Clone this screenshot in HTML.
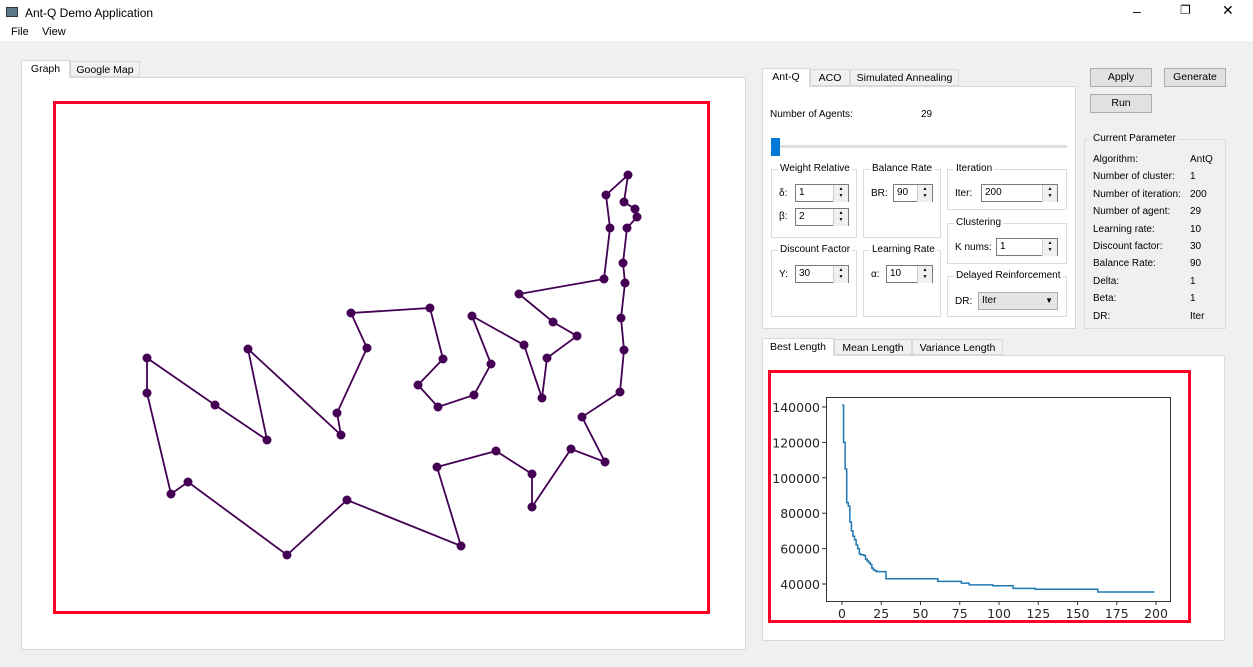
<!DOCTYPE html>
<html><head><meta charset="utf-8">
<style>
*{box-sizing:border-box}
body{margin:0;width:1253px;height:667px;overflow:hidden;background:#f0f0f0;font-family:"Liberation Sans",sans-serif;font-size:11px;color:#000;position:relative}
.a{position:absolute}
.top{left:0;top:0;width:1253px;height:41px;background:#fff}
.tab{position:absolute;border:1px solid #d9d9d9;background:#f0f0f0;text-align:center;line-height:16px;font-size:10.5px}
.tab.sel{background:#fff;border-bottom:none}
.pane{position:absolute;background:#fff;border:1px solid #d9d9d9}
.btn{position:absolute;background:#e1e1e1;border:1px solid #adadad;text-align:center;line-height:17px;font-size:10.5px}
.grp{position:absolute;border:1px solid #dcdcdc}
.gl{position:absolute;top:-7px;left:6px;background:#fff;padding:0 2px;font-size:10px}
.spin{position:absolute;border:1px solid #7a7a7a;background:#fff;height:18px;font-size:10px;line-height:16px;padding-left:3px}
.spin:after{content:"▲\A▼";white-space:pre;font-size:5px;line-height:7px;text-align:center;padding-top:1px;position:absolute;right:0;top:0;width:14px;height:16px;border-left:1px solid #ccc;background:#f0f0f0}
.lbl{position:absolute;font-size:10px}
</style></head><body>
<div class="a top"></div>
<div class="a" style="left:6px;top:7px;width:12px;height:10px;background:#5a7a8a;border:1px solid #333"></div>
<div class="a" style="left:25px;top:6px;font-size:12px">Ant-Q Demo Application</div>
<div class="a" style="left:1133px;top:3px;font-size:14px">–</div>
<div class="a" style="left:1180px;top:3px;font-size:12px">❐</div>
<div class="a" style="left:1222px;top:2px;font-size:14px">✕</div>
<div class="a" style="left:11px;top:26px;font-size:11px">File</div>
<div class="a" style="left:42px;top:26px;font-size:11px">View</div>

<div class="pane" style="left:21px;top:77px;width:725px;height:573px"></div>
<div class="tab sel" style="left:21px;top:60px;width:49px;height:18px">Graph</div>
<div class="tab" style="left:70px;top:61px;width:70px;height:16px">Google Map</div>

<svg class="a" style="left:0;top:0" width="1253" height="667" id="tour">
<rect x="54.5" y="102.5" width="654" height="510" fill="none" stroke="#ff0027" stroke-width="3"/>
</svg>

<div class="pane" style="left:762px;top:86px;width:314px;height:243px"></div>
<div class="tab sel" style="left:762px;top:68px;width:48px;height:19px">Ant-Q</div>
<div class="tab" style="left:810px;top:69px;width:40px;height:17px">ACO</div>
<div class="tab" style="left:850px;top:69px;width:109px;height:17px">Simulated Annealing</div>
<div class="lbl" style="left:770px;top:109px">Number of Agents:</div>
<div class="lbl" style="left:921px;top:109px">29</div>
<div class="a" style="left:771px;top:145px;width:296px;height:3px;background:#e0e0e0"></div>
<div class="a" style="left:771px;top:138px;width:9px;height:18px;background:#0078d7"></div>

<div class="grp" style="left:771px;top:169px;width:86px;height:69px"><span class="gl">Weight Relative</span></div>
<div class="lbl" style="left:779px;top:188px">δ:</div><div class="spin" style="left:795px;top:184px;width:54px">1</div>
<div class="lbl" style="left:779px;top:211px">β:</div><div class="spin" style="left:795px;top:208px;width:54px">2</div>
<div class="grp" style="left:863px;top:169px;width:78px;height:69px"><span class="gl">Balance Rate</span></div>
<div class="lbl" style="left:871px;top:188px">BR:</div><div class="spin" style="left:893px;top:184px;width:40px">90</div>
<div class="grp" style="left:947px;top:169px;width:120px;height:41px"><span class="gl">Iteration</span></div>
<div class="lbl" style="left:955px;top:188px">Iter:</div><div class="spin" style="left:981px;top:184px;width:77px">200</div>
<div class="grp" style="left:947px;top:223px;width:120px;height:41px"><span class="gl">Clustering</span></div>
<div class="lbl" style="left:955px;top:242px">K nums:</div><div class="spin" style="left:996px;top:238px;width:62px">1</div>
<div class="grp" style="left:771px;top:250px;width:86px;height:67px"><span class="gl">Discount Factor</span></div>
<div class="lbl" style="left:779px;top:269px">Y:</div><div class="spin" style="left:795px;top:265px;width:54px">30</div>
<div class="grp" style="left:863px;top:250px;width:78px;height:67px"><span class="gl">Learning Rate</span></div>
<div class="lbl" style="left:871px;top:269px">α:</div><div class="spin" style="left:886px;top:265px;width:47px">10</div>
<div class="grp" style="left:947px;top:276px;width:120px;height:41px"><span class="gl">Delayed Reinforcement</span></div>
<div class="lbl" style="left:955px;top:296px">DR:</div><div class="a" style="left:978px;top:292px;width:80px;height:18px;background:#e5e5e5;border:1px solid #adadad;font-size:10px;line-height:16px;padding-left:3px">Iter<span style="position:absolute;right:4px;font-size:8px">▼</span></div>

<div class="btn" style="left:1090px;top:68px;width:62px;height:19px">Apply</div>
<div class="btn" style="left:1164px;top:68px;width:62px;height:19px">Generate</div>
<div class="btn" style="left:1090px;top:94px;width:62px;height:19px">Run</div>
<div class="grp" style="left:1084px;top:139px;width:142px;height:190px"><span class="gl" style="background:#f0f0f0">Current Parameter</span></div>
<div id="params"></div>

<div class="pane" style="left:762px;top:355px;width:463px;height:286px"></div>
<div class="tab sel" style="left:762px;top:338px;width:72px;height:18px">Best Length</div>
<div class="tab" style="left:834px;top:339px;width:78px;height:16px">Mean Length</div>
<div class="tab" style="left:912px;top:339px;width:91px;height:16px">Variance Length</div>
<svg class="a" style="left:0;top:0" width="1253" height="667" id="chart">
<rect x="769.5" y="371.5" width="420" height="250" fill="none" stroke="#ff0027" stroke-width="3"/>
</svg>

<script>
// Tour city coordinates (in tour order)
const cityX=[147,147,171,188,287,347,461,437,496,532,532,571,605,582,620,624,621,625,623,627,637,635,624,628,606,610,604,519,553,577,547,542,524,472,491,474,438,418,443,430,351,367,337,341,248,267,215];
const cityY=[358,393,494,482,555,500,546,467,451,474,507,449,462,417,392,350,318,283,263,228,217,209,202,175,195,228,279,294,322,336,358,398,345,316,364,395,407,385,359,308,313,348,413,435,349,440,405];
// Best length series: breakpoints (iteration, value)
const iterBreaks=[0,1,2,3,4,5,6,7,8,9,10,11,12,14,15,16,17,18,19,20,21,22,27,28,61,76,81,96,109,123,163,199];
const bestVals=[141000,120000,105000,86000,84000,75000,70000,67000,65000,62000,60000,57000,56500,56000,54000,53000,52000,51000,49000,48000,47500,47000,47000,43000,41500,40500,39500,39000,37500,37000,35500,35500];
const xTicks=[0,25,50,75,100,125,150,175,200];
const yTicks=[40000,60000,80000,100000,120000,140000];
const paramNames=["Algorithm:","Number of cluster:","Number of iteration:","Number of agent:","Learning rate:","Discount factor:","Balance Rate:","Delta:","Beta:","DR:"];
const paramVals=["AntQ","1","200","29","10","30","90","1","1","Iter"];

const NS="http://www.w3.org/2000/svg";
function mk(p,t,a){const e=document.createElementNS(NS,t);for(const k in a)e.setAttribute(k,a[k]);p.appendChild(e);return e;}

const tour=document.getElementById('tour');
let pts=cityX.map((x,i)=>x+','+cityY[i]);pts.push(pts[0]);
const tl=mk(tour,'polyline',{points:pts.join(' '),fill:'none',stroke:'#440154',"stroke-width":1.8});


cityX.forEach((x,i)=>{const c=mk(tour,'circle',{cx:x,cy:cityY[i],r:4.5,fill:'#440154'});

});

const pd=document.getElementById('params');
paramNames.forEach((n,i)=>{const y=154+i*17.4;
const a=document.createElement('div');a.className='lbl';a.style.left='1093px';a.style.top=y+'px';a.textContent=n;

pd.appendChild(a);
const b=document.createElement('div');b.className='lbl';b.style.left='1190px';b.style.top=y+'px';b.textContent=paramVals[i];

pd.appendChild(b);});

const ch=document.getElementById('chart');
const L=826,R=1170,T=397,B=601;
const sx=v=>842+(v-0)*(1156-842)/200;
const sy=v=>584-(v-40000)*(584-407)/100000;
const fr=mk(ch,'rect',{x:L+.5,y:T+.5,width:R-L,height:B-T,fill:'#fff',stroke:'#333'});


xTicks.forEach(v=>{const x=sx(v);mk(ch,'line',{x1:x,x2:x,y1:B,y2:B+4,stroke:'#333'});
const t=mk(ch,'text',{x:x,y:B+17,"text-anchor":"middle","font-size":12.5,fill:'#262626',"font-family":"DejaVu Sans, sans-serif"});t.textContent=v;

});
yTicks.forEach(v=>{const y=sy(v);mk(ch,'line',{x1:L-4,x2:L,y1:y,y2:y,stroke:'#333'});
const t=mk(ch,'text',{x:L-6,y:y+5,"text-anchor":"end","font-size":12.5,fill:'#262626',"font-family":"DejaVu Sans, sans-serif"});t.textContent=v;

});
let lp=[];iterBreaks.forEach((it,i)=>{if(i>0)lp.push(sx(it)+','+sy(bestVals[i-1]));lp.push(sx(it)+','+sy(bestVals[i]));});
const ln=mk(ch,'polyline',{points:lp.join(' '),fill:'none',stroke:'#1f77b4',"stroke-width":1.5});


</script>
</body></html>
